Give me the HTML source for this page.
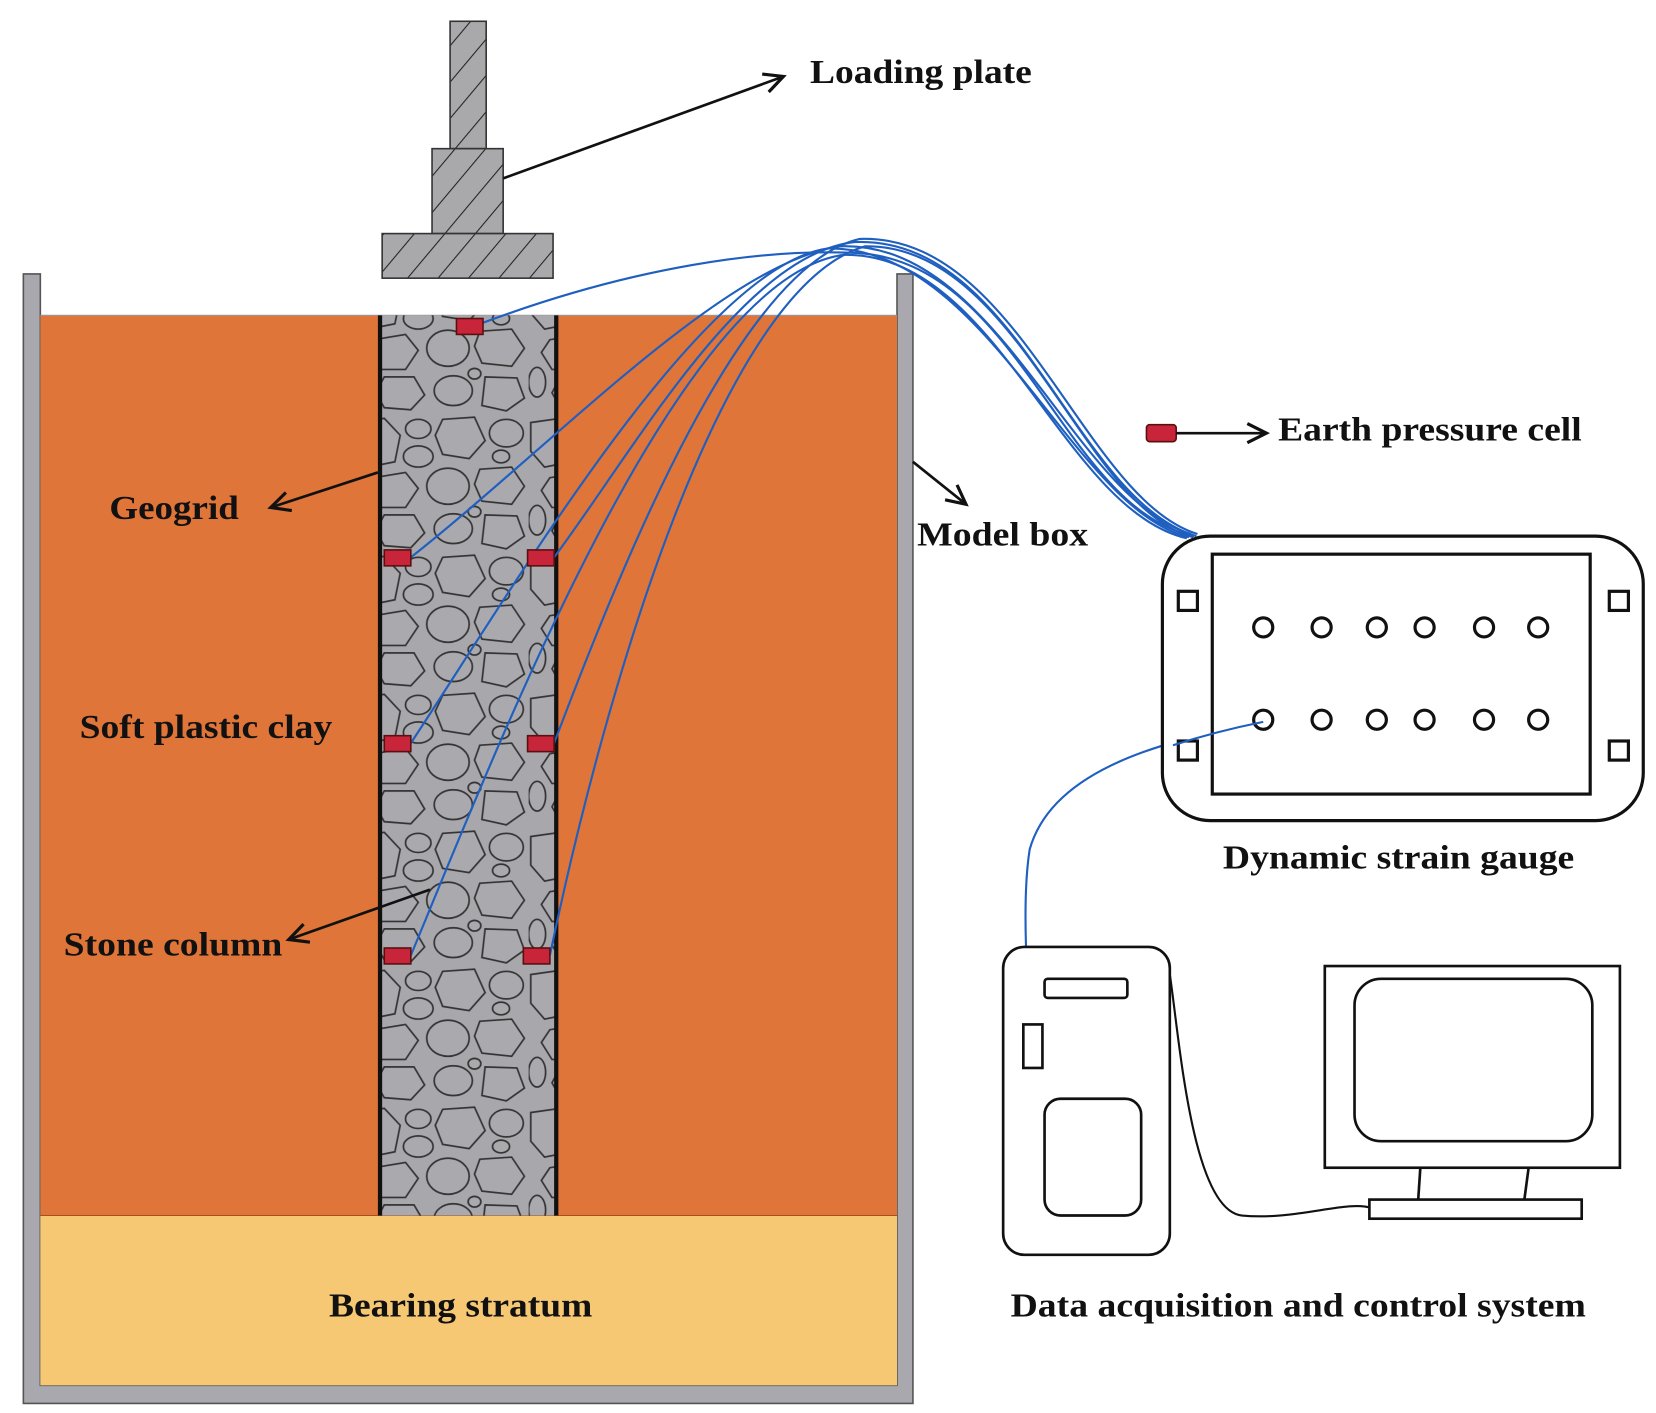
<!DOCTYPE html>
<html><head><meta charset="utf-8"><style>
html,body{margin:0;padding:0;background:#fff;}
svg{display:block;}
text{font-family:"Liberation Serif",serif;font-weight:bold;fill:#111;}
</style></head><body>
<svg width="1656" height="1413" viewBox="0 0 1560 1331" xmlns="http://www.w3.org/2000/svg">
<defs>
<pattern id="hatch" patternUnits="userSpaceOnUse" width="22" height="22" patternTransform="rotate(40)">
<rect width="22" height="22" fill="#a9a9ab"/>
<line x1="0" y1="0" x2="0" y2="22" stroke="#222" stroke-width="2"/>
</pattern>
<pattern id="stones" patternUnits="userSpaceOnUse" width="166" height="130">
<rect width="166" height="130" fill="#a7a7ac"/>
<g fill="#a9a9ae" stroke="#333" stroke-width="1.6">
<path d="M2 8 L30 4 L45 20 L40 45 L15 50 L2 35Z"/>
<ellipse cx="62" cy="14" rx="12" ry="9"/>
<path d="M85 5 L115 3 L125 25 L110 42 L85 38 L78 20Z"/>
<ellipse cx="145" cy="18" rx="16" ry="13"/>
<ellipse cx="62" cy="40" rx="14" ry="10"/>
<path d="M20 60 L50 55 L62 70 L50 88 L22 88 L12 72Z"/>
<ellipse cx="90" cy="68" rx="20" ry="17"/>
<path d="M120 52 L150 50 L162 68 L150 85 L122 82 L115 66Z"/>
<ellipse cx="140" cy="40" rx="8" ry="6"/>
<ellipse cx="8" cy="100" rx="8" ry="14"/>
<path d="M30 95 L58 95 L68 112 L55 126 L30 124 L22 110Z"/>
<ellipse cx="95" cy="108" rx="18" ry="14"/>
<path d="M125 95 L155 96 L162 115 L145 127 L122 122Z"/>
<ellipse cx="115" cy="92" rx="6" ry="5"/>
</g>
</pattern>
<marker id="ar" markerWidth="24" markerHeight="24" refX="20" refY="12" orient="auto" markerUnits="userSpaceOnUse">
<path d="M2 3 L20 12 L2 21" fill="none" stroke="#111" stroke-width="3"/>
</marker>
</defs>

<!-- model box -->
<path d="M22 258 H38 V1305 H845 V258 H860 V1322 H22 Z" fill="#a8a8ae" stroke="#555" stroke-width="1.5"/>
<rect x="38" y="297" width="807" height="848" fill="#df7538"/>
<rect x="38" y="1145" width="807" height="160" fill="#f6c873"/>
<line x1="38" y1="297" x2="845" y2="297" stroke="#999" stroke-width="1"/>
<line x1="38" y1="1145" x2="845" y2="1145" stroke="#a65020" stroke-width="1"/>

<!-- stone column -->
<rect x="358" y="297" width="166" height="848" fill="url(#stones)"/>
<line x1="358" y1="297" x2="358" y2="1145" stroke="#111" stroke-width="4"/>
<line x1="524" y1="297" x2="524" y2="1145" stroke="#111" stroke-width="4"/>

<!-- loading plate -->
<g stroke="#333" stroke-width="1.5" fill="url(#hatch)">
<rect x="424" y="20" width="34" height="120"/>
<rect x="407" y="140" width="67" height="80"/>
<rect x="360" y="220" width="161" height="42"/>
</g>

<!-- wires -->
<g fill="none" stroke="#1f5fc0" stroke-width="2">
<path d="M455 304 C600 250 720 235 800 238 C960 240 1000 480 1125 505"/>
<path d="M387 525 C520 420 680 250 790 232 C940 225 1010 470 1122 503"/>
<path d="M522 525 C600 420 700 240 805 228 C960 222 1010 470 1127 505"/>
<path d="M387 700 C480 560 660 250 780 234 C930 232 1010 480 1120 506"/>
<path d="M522 700 C590 520 700 250 810 225 C960 220 1020 470 1128 503"/>
<path d="M387 900 C470 700 640 260 795 240 C940 238 1000 480 1118 507"/>
<path d="M518 900 C570 650 680 270 815 232 C960 230 1020 480 1124 506"/>
<path d="M1190 680 C1080 700 990 730 970 800 C962 850 968 930 972 985"/>
<path d="M1100 905 C1110 960 1120 1140 1170 1145 C1220 1150 1270 1130 1292 1138" stroke="#111" stroke-width="2"/>
</g>

<!-- sensors -->
<g fill="#c8243a" stroke="#5a1010" stroke-width="1.5">
<rect x="430" y="300" width="25" height="15"/>
<rect x="362" y="518" width="25" height="15"/>
<rect x="497" y="518" width="25" height="15"/>
<rect x="362" y="693" width="25" height="15"/>
<rect x="497" y="693" width="25" height="15"/>
<rect x="362" y="893" width="25" height="15"/>
<rect x="493" y="893" width="25" height="15"/>
<rect x="1080" y="400" width="28" height="16" rx="3"/>
</g>

<!-- arrows -->
<g stroke="#111" stroke-width="2.5" fill="none" marker-end="url(#ar)">
<line x1="474" y1="168" x2="738" y2="72"/>
<line x1="1108" y1="408" x2="1193" y2="408"/>
<line x1="356" y1="445" x2="255" y2="478"/>
<line x1="860" y1="435" x2="910" y2="475"/>
<line x1="405" y1="838" x2="272" y2="885"/>
</g>

<!-- strain gauge -->
<rect x="1095" y="505" width="453" height="268" rx="45" fill="#fff" stroke="#111" stroke-width="3"/>
<rect x="1142" y="522" width="356" height="226" fill="#fff" stroke="#111" stroke-width="3"/>
<g fill="#fff" stroke="#111" stroke-width="3">
<rect x="1110" y="557" width="18" height="18"/><rect x="1516" y="557" width="18" height="18"/>
<rect x="1110" y="698" width="18" height="18"/><rect x="1516" y="698" width="18" height="18"/>
<circle cx="1190" cy="591" r="9"/><circle cx="1245" cy="591" r="9"/><circle cx="1297" cy="591" r="9"/>
<circle cx="1342" cy="591" r="9"/><circle cx="1398" cy="591" r="9"/><circle cx="1449" cy="591" r="9"/>
<circle cx="1190" cy="678" r="9"/><circle cx="1245" cy="678" r="9"/><circle cx="1297" cy="678" r="9"/>
<circle cx="1342" cy="678" r="9"/><circle cx="1398" cy="678" r="9"/><circle cx="1449" cy="678" r="9"/>
</g>
<path d="M1190 680 C1160 686 1130 694 1105 702" fill="none" stroke="#1f5fc0" stroke-width="2"/>

<!-- PC tower -->
<g fill="#fff" stroke="#111" stroke-width="2.5">
<rect x="945" y="892" width="157" height="290" rx="20"/>
<rect x="984" y="922" width="78" height="18" rx="3"/>
<rect x="964" y="965" width="18" height="41"/>
<rect x="984" y="1035" width="91" height="110" rx="15"/>
</g>
<!-- monitor -->
<g fill="#fff" stroke="#111" stroke-width="2.5">
<rect x="1248" y="910" width="278" height="190"/>
<rect x="1276" y="922" width="224" height="153" rx="25"/>
<line x1="1338" y1="1100" x2="1336" y2="1130"/>
<line x1="1440" y1="1100" x2="1436" y2="1130"/>
<rect x="1290" y="1130" width="200" height="18"/>
</g>

<!-- labels -->
<g font-size="32">
<text x="763" y="78" textLength="209" lengthAdjust="spacingAndGlyphs">Loading plate</text>
<text x="1204" y="415" textLength="286" lengthAdjust="spacingAndGlyphs">Earth pressure cell</text>
<text x="103" y="489" textLength="122" lengthAdjust="spacingAndGlyphs">Geogrid</text>
<text x="864" y="514" textLength="161" lengthAdjust="spacingAndGlyphs">Model box</text>
<text x="75" y="695" textLength="238" lengthAdjust="spacingAndGlyphs">Soft plastic clay</text>
<text x="1152" y="818" textLength="331" lengthAdjust="spacingAndGlyphs">Dynamic strain gauge</text>
<text x="60" y="900" textLength="206" lengthAdjust="spacingAndGlyphs">Stone column</text>
<text x="310" y="1240" textLength="248" lengthAdjust="spacingAndGlyphs">Bearing stratum</text>
<text x="952" y="1240" textLength="542" lengthAdjust="spacingAndGlyphs">Data acquisition and control system</text>
</g>
</svg>
</body></html>
